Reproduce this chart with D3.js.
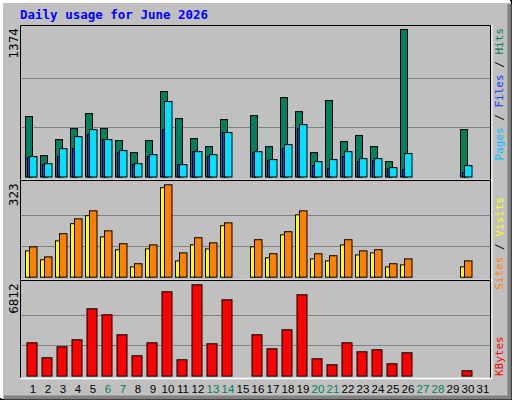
<!DOCTYPE html>
<html><head><meta charset="utf-8">
<script src="https://cdn.jsdelivr.net/npm/d3@7"></script>
<style>body{margin:0;background:#fff}</style></head>
<body><script>
const days = d3.range(1,32);
const weekend = [6,7,13,14,20,21,27,28];
const hits  = [563,199,348,451,591,451,339,227,339,796,544,358,283,535,0,572,283,740,609,227,712,330,386,283,143,1374,0,0,0,441,0];
const files = [190,124,264,376,441,348,246,124,208,703,115,236,208,414,0,236,162,302,488,143,162,236,171,171,87,218,0,0,0,106,0];
const pages = [180,115,190,264,395,348,227,115,190,441,115,236,190,414,0,227,152,264,451,106,78,190,143,152,78,68,0,0,0,40,0];
const visits= [92,61,127,187,215,141,96,36,99,313,57,113,99,180,0,106,68,148,218,64,57,113,78,85,36,43,0,0,0,36,0];
const sites = [106,71,152,204,232,162,117,47,113,323,85,138,120,190,0,131,82,159,232,82,75,131,92,96,47,64,0,0,0,57,0];
const kbytes= [2486,1367,2188,2710,5022,4574,3083,1516,2486,6290,1218,6812,2411,5693,0,3083,2039,3456,6066,1293,845,2486,1815,1964,920,1740,0,0,0,398,0];

const W=512,H=400;
const svg=d3.select("body").append("svg").attr("width",W).attr("height",H);
svg.append("rect").attr("width",W).attr("height",H).attr("fill","#c0c0c0");
svg.append("rect").attr("x",0.5).attr("y",0.5).attr("width",W-1).attr("height",H-1).attr("fill","none").attr("stroke","#000");
svg.append("path").attr("d","M1.5,398V1.5H510").attr("stroke","#fff").attr("stroke-width",3).attr("fill","none");
svg.append("path").attr("d","M4,397.5H509.5V4").attr("stroke","#808080").attr("stroke-width",4).attr("fill","none");

svg.append("text").attr("x",20).attr("y",19).text("Daily usage for June 2026")
  .attr("font-family","DejaVu Sans Mono").attr("font-weight","bold").attr("font-size",12.5).attr("fill","#0000ff");

const x=d3.scaleLinear().domain([1,2]).range([25,40]);
const mono="DejaVu Sans Mono";

function panel(y0,y1,bottom,topv,max,series,rlabels){
  svg.append("rect").attr("x",20).attr("y",y0).attr("width",471).attr("height",y1-y0).attr("fill","#c0c0c0");
  const y=d3.scaleLinear().domain([0,max]).range([bottom,topv]);
  [max/3,2*max/3].forEach(v=>svg.append("line").attr("x1",21).attr("x2",490).attr("y1",Math.round(y(v))+0.5).attr("y2",Math.round(y(v))+0.5).attr("stroke","#808080").attr("stroke-width",1));
  series.forEach(s=>{
    svg.selectAll(null).data(days.filter((d,i)=>s.vals[i]>0)).enter().append("rect")
      .attr("x",d=>x(d)+s.dx+0.5).attr("width",s.w)
      .attr("y",d=>y(s.vals[d-1])+0.5).attr("height",d=>bottom-y(s.vals[d-1]))
      .attr("fill",s.color).attr("stroke",s.stroke?"#000":"none");
  });
  svg.append("path").attr("d",`M20.5,${y1}V${y0+0.5}H490.5V${y1}`).attr("stroke","#000").attr("fill","none");
  svg.append("line").attr("x1",20).attr("x2",492).attr("y1",y1+0.5).attr("y2",y1+0.5).attr("stroke","#fff").attr("stroke-width",1.5);
  svg.append("line").attr("x1",492).attr("x2",492).attr("y1",y0).attr("y2",y1+1).attr("stroke","#fff");
  svg.append("text").attr("transform",`translate(18,${topv-1}) rotate(-90)`).attr("text-anchor","end")
    .attr("font-family","DejaVu Sans").attr("font-size",12).attr("fill","#000").text(max);
  const t=svg.append("text").attr("transform",`translate(503,${rlabels.anchorY}) rotate(-90)`).attr("text-anchor",rlabels.anchor)
    .attr("font-family",mono).attr("font-size",11);
  rlabels.parts.forEach(p=>t.append("tspan").attr("fill",p[1]).text(p[0]));
}

panel(25,180,176.5,29,1374,[
  {vals:hits,dx:0,w:7,color:"#00805c",stroke:true},
  {vals:pages,dx:2,w:3,color:"#0040ff",stroke:true},
  {vals:files,dx:4,w:7.5,color:"#00e0ff",stroke:true}],
  {anchorY:28,anchor:"end",parts:[["Pages","#00c0ff"],[" / ","#000"],["Files","#0040ff"],[" / ","#000"],["Hits","#00805c"]]});
panel(180,280,276.7,184.3,323,[
  {vals:visits,dx:0,w:4.5,color:"#ffff00",stroke:true},
  {vals:sites,dx:4,w:7.5,color:"#ff8000",stroke:true}],
  {anchorY:197,anchor:"end",parts:[["Sites","#ff8000"],[" / ","#000"],["Visits","#ffff00"]]});
panel(280,378,375.6,284.3,6812,[
  {vals:kbytes,dx:1.5,w:10,color:"#ff0000",stroke:true}],
  {anchorY:376,anchor:"start",parts:[["KBytes","#ff0000"]]});

svg.selectAll(null).data(days).enter().append("text")
  .attr("x",d=>x(d)+8).attr("y",393).attr("text-anchor","middle")
  .attr("font-family","Liberation Sans").attr("font-size",11.5)
  .attr("fill",d=>weekend.includes(d)?"#00805c":"#000").text(d=>d);
</script></body></html>
